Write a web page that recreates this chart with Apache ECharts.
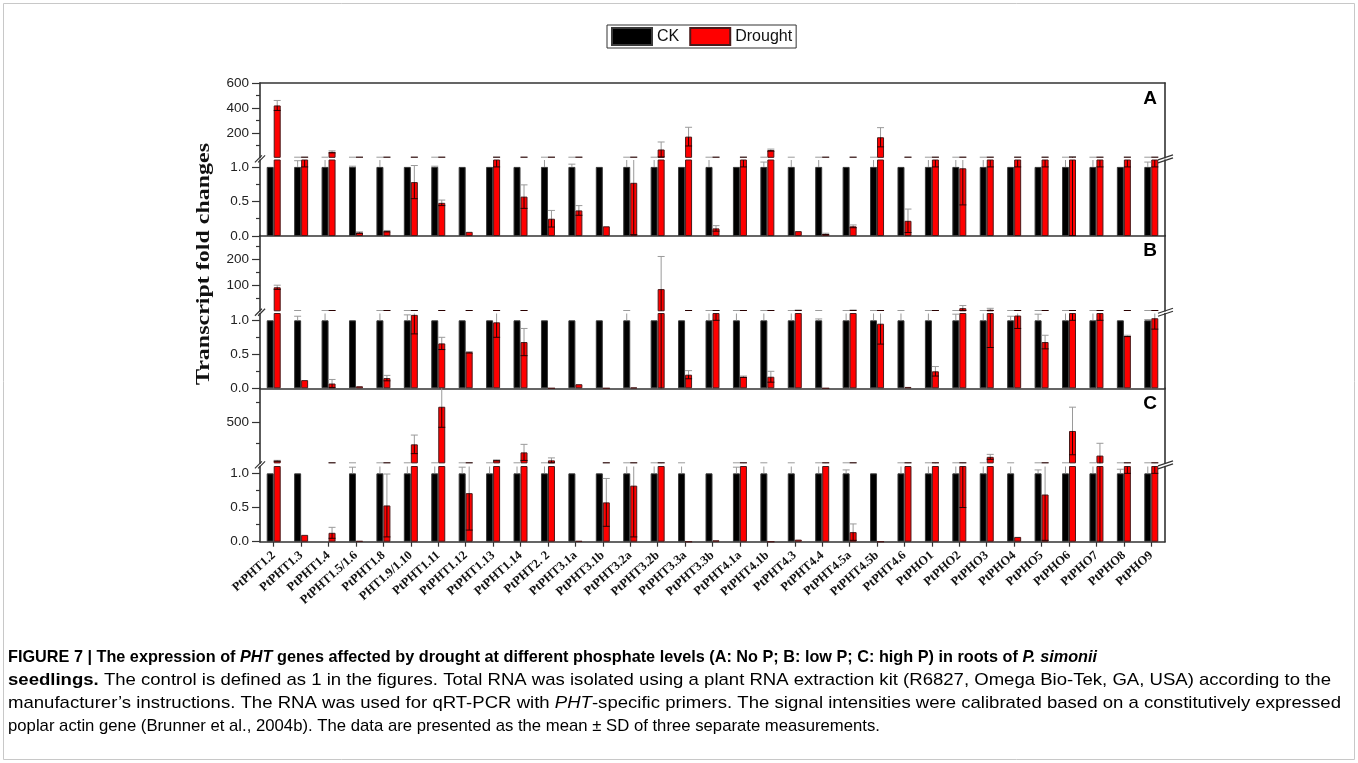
<!DOCTYPE html>
<html>
<head>
<meta charset="utf-8">
<title>PHT expression under drought</title>
<script src="https://cdn.jsdelivr.net/npm/echarts@6/dist/echarts.min.js"></script>
<style>
  html, body { margin: 0; padding: 0; background: #fff; }
  #main { width: 1358px; height: 763px; }
</style>
</head>
<body>
<div id="main"></div>
<script>
// ---- categories ----
const genes = ['PtPHT1.2', 'PtPHT1.3', 'PtPHT1.4', 'PtPHT1.5/1.6', 'PtPHT1.8', 'PHT1.9/1.10', 'PtPHT1.11',
  'PtPHT1.12', 'PtPHT1.13', 'PtPHT1.14', 'PtPHT2. 2', 'PtPHT3.1a', 'PtPHT3.1b', 'PtPHT3.2a', 'PtPHT3.2b',
  'PtPHT3.3a', 'PtPHT3.3b', 'PtPHT4.1a', 'PtPHT4.1b', 'PtPHT4.3', 'PtPHT4.4', 'PtPHT4.5a', 'PtPHT4.5b',
  'PtPHT4.6', 'PtPHO1', 'PtPHO2', 'PtPHO3', 'PtPHO4', 'PtPHO5', 'PtPHO6', 'PtPHO7', 'PtPHO8', 'PtPHO9'];

// ---- panel A: no P ----
const ckA = [1, 1, 1, 1, 1, 1, 1, 1, 1, 1, 1, 1, 1, 1, 1, 1, 1, 1, 1, 1, 1, 1, 1, 1, 1, 1, 1, 1, 1, 1, 1, 1, 1];
const ckErrA = [0, 0.09, 0.2, 0.01, 0.2, 0, 0.01, 0, 0, 0, 0.2, 0.04, 0, 0.2, 0.2, 0, 0.2, 0, 0.07, 0.2, 0.2, 0,
  0.2, 0, 0.2, 0.2, 0.2, 0, 0, 0.2, 0.2, 0, 0.07];
const droughtA = [420, 1.5, 48, 0.05, 0.07, 0.78, 0.48, 0.06, 1.5, 0.57, 0.25, 0.37, 0.14, 0.77, 67, 170, 0.11,
  1.5, 62, 0.07, 0.03, 0.14, 165, 0.22, 1.5, 0.98, 1.5, 1.5, 1.5, 5, 1.5, 1.5, 1.5];
const droughtErrA = [40, 0.5, 8, 0.01, 0.01, 0.24, 0.04, 0, 0.5, 0.17, 0.12, 0.07, 0, 0.75, 60, 75, 0.04,
  0.5, 8, 0, 0.01, 0.02, 77, 0.17, 0.5, 0.53, 0.5, 0.5, 0.5, 5, 0.5, 0.5, 0.5];

// ---- panel B: low P ----
const ckB = [1, 1, 1, 1, 1, 1, 1, 1, 1, 1, 1, 1, 1, 1, 1, 1, 1, 1, 1, 1, 1, 1, 1, 1, 1, 1, 1, 1, 1, 1, 1, 1, 1];
const ckErrB = [0, 0.06, 0.2, 0, 0.2, 0.08, 0, 0, 0, 0, 0, 0, 0, 0.2, 0, 0, 0.2, 0.2, 0.2, 0.2, 0.02, 0.2,
  0.2, 0.2, 0.2, 0.09, 0.2, 0.06, 0.09, 0.2, 0.2, 0, 0.01];
const droughtB = [92, 0.12, 0.07, 0.03, 0.15, 1.08, 0.66, 0.53, 0.97, 0.68, 0, 0.06, 0, 0.01, 85, 0.2, 1.5,
  0.17, 0.17, 4, 0, 4, 0.95, 0.02, 0.25, 12, 6, 1.07, 0.68, 1.5, 1.5, 0.77, 1.03];
const droughtErrB = [8, 0, 0.06, 0, 0.04, 0.28, 0.09, 0.01, 0.22, 0.2, 0, 0, 0, 0, 125, 0.06, 0.5,
  0.01, 0.08, 1, 0, 1, 0.3, 0, 0.07, 10, 5.4, 0.19, 0.1, 0.5, 0.5, 0.01, 0.16];

// ---- panel C: high P ----
const ckC = [1, 1, null, 1, 1, 1, 1, 1, 1, 1, 1, 1, 1, 1, 1, 1, 1, 1, 1, 1, 1, 1, 1, 1, 1, 1, 1, 1, 1, 1, 1, 1, 1];
const ckErrC = [0, 0, 0, 0.09, 0.2, 0.2, 0.2, 0.09, 0.2, 0.2, 0.2, 0, 0, 0.2, 0.2, 0.2, 0, 0.09, 0.2, 0.2,
  0.2, 0.05, 0, 0.2, 0.2, 0.2, 0.2, 0.2, 0.05, 0.2, 0.2, 0.06, 0.2];
const droughtC = [32, 0.1, 0.13, 0.01, 0.53, 232, 690, 0.71, 38, 134, 37, 0.01, 0.575, 0.82, 3, 0, 0.02, 2,
  0, 0.03, 2, 0.14, 0, 2, 3, 1.5, 80, 0.07, 0.69, 395, 95, 1.5, 1.5];
const droughtErrC = [5, 0, 0.08, 0, 0.46, 113, 250, 0.54, 5, 98, 30, 0, 0.35, 0.75, 1, 0, 0, 0.5,
  0, 0, 0.5, 0.12, 0, 0.5, 1, 1, 30, 0, 0.67, 290, 150, 0.5, 0.5];

// ---- axis ranges and tick labels (each panel has a broken y axis) ----
const lowerMax = 1.1;
const lowerMajor = [0, 0.5, 1.0];
const lowerMinor = [0.25, 0.75];
const upperMaxA = 600, upperMajorA = [200, 400, 600], upperMinorA = [100, 300, 500];
const upperMaxB = 290, upperMajorB = [100, 200], upperMinorB = [50, 150, 250];
const upperMaxC = 915, upperMajorC = [500], upperMinorC = [250, 750];
const panelLetters = ['A', 'B', 'C'];

const panels = [
  { ck: ckA, ckErr: ckErrA, dr: droughtA, drErr: droughtErrA, uMax: upperMaxA, uMajor: upperMajorA, uMinor: upperMinorA },
  { ck: ckB, ckErr: ckErrB, dr: droughtB, drErr: droughtErrB, uMax: upperMaxB, uMajor: upperMajorB, uMinor: upperMinorB },
  { ck: ckC, ckErr: ckErrC, dr: droughtC, drErr: droughtErrC, uMax: upperMaxC, uMajor: upperMajorC, uMinor: upperMinorC }
];

// ---- layout ----
const PLOT_LEFT = 260, PLOT_RIGHT = 1165;
const gridBoxes = [
  { top: 83, height: 74.7 },    // A, upper segment
  { top: 160, height: 76 },     // A, lower segment
  { top: 235.6, height: 75.4 }, // B, upper
  { top: 313.5, height: 74.8 }, // B, lower
  { top: 388.3, height: 75 },   // C, upper
  { top: 466.5, height: 75.2 }  // C, lower
];
const AXIS_COLOR = '#333';
const BAR_W = 7;

const chart = echarts.init(document.getElementById('main'), null, { renderer: 'canvas' });

const grid = [], xAxis = [], yAxis = [], series = [];

function errRenderer(offset, mode, color) {
  return function (params, api) {
    const i = api.value(0), v = api.value(1), e = api.value(2);
    if (isNaN(v) || !(e > 0)) return;
    const lo = mode === 'in' ? v - e : v;
    const hi = mode === 'in' ? v : v + e;
    const x = api.coord([i, v])[0] + offset;
    const yHi = api.coord([i, hi])[1];
    const yLo = api.coord([i, lo])[1];
    const cs = params.coordSys;
    const top = cs.y, bot = cs.y + cs.height;
    const a = Math.max(yHi, top), b = Math.min(yLo, bot);
    const children = [];
    if (b > a) {
      children.push({ type: 'line', shape: { x1: x, y1: a, x2: x, y2: b }, style: { stroke: color, lineWidth: 1 } });
    }
    const capY = mode === 'in' ? yLo : yHi;
    if (capY >= top - 0.6 && capY <= bot + 0.6) {
      const cy = Math.min(Math.max(capY, top + 0.5), bot - 0.5);
      children.push({ type: 'line', shape: { x1: x - 3.5, y1: cy, x2: x + 3.5, y2: cy }, style: { stroke: color, lineWidth: 1 } });
    }
    return { type: 'group', children: children };
  };
}

gridBoxes.forEach(function (box, k) {
  const p = panels[Math.floor(k / 2)];
  const upper = k % 2 === 0;
  const isBottom = k === 5;
  const min = upper ? lowerMax : 0;
  const max = upper ? p.uMax : lowerMax;
  const major = upper ? p.uMajor : lowerMajor;
  const minor = upper ? p.uMinor : lowerMinor;
  // smallest value that still shows as a visible bar in this segment
  const visibleFloor = upper ? lowerMax + (max - min) / box.height : -Infinity;

  grid.push({ left: PLOT_LEFT, width: PLOT_RIGHT - PLOT_LEFT, top: box.top, height: box.height,
    containLabel: false, outerBoundsMode: 'none' });

  xAxis.push({
    type: 'category', gridIndex: k, data: genes, boundaryGap: true,
    position: (k === 0) ? 'top' : 'bottom',
    axisLine: { show: !upper || k === 0, onZero: false, lineStyle: { color: AXIS_COLOR, width: 1.6 } },
    axisTick: { show: isBottom, alignWithLabel: true, length: 5, inside: false, lineStyle: { color: AXIS_COLOR, width: 1.2 } },
    axisLabel: {
      show: isBottom, interval: 0, rotate: 42, margin: 12,
      fontFamily: '"Liberation Serif", "DejaVu Serif", serif', fontWeight: 'bold', fontSize: 12.5, color: '#111'
    },
    splitLine: { show: false }
  });

  const labelFmt = upper ? function (v) { return String(Math.round(v)); } : function (v) { return v.toFixed(1); };
  yAxis.push({
    type: 'value', gridIndex: k, min: min, max: max, position: 'left',
    axisLine: { show: true, onZero: false, lineStyle: { color: AXIS_COLOR, width: 1.6 } },
    axisTick: { show: true, length: 8, inside: false, customValues: major, lineStyle: { color: AXIS_COLOR, width: 1.2 } },
    axisLabel: { show: true, customValues: major, formatter: labelFmt, margin: 11,
      fontFamily: '"Liberation Sans", Arial, sans-serif', fontSize: 13.5, color: '#222' },
    splitLine: { show: false }
  });
  yAxis.push({
    type: 'value', gridIndex: k, min: min, max: max, position: 'left',
    axisLine: { show: false },
    axisTick: { show: true, length: 4, inside: false, customValues: minor, lineStyle: { color: AXIS_COLOR, width: 1.2 } },
    axisLabel: { show: false },
    splitLine: { show: false }
  });
  yAxis.push({
    type: 'value', gridIndex: k, min: min, max: max, position: 'right',
    axisLine: { show: true, onZero: false, lineStyle: { color: AXIS_COLOR, width: 1.6 } },
    axisTick: { show: false }, axisLabel: { show: false }, splitLine: { show: false }
  });

  const keep = function (v) {
    if (v === null || v === undefined) return '-';
    if (upper && v <= visibleFloor) return '-';
    return v;
  };

  series.push({
    type: 'bar', name: 'CK', xAxisIndex: k, yAxisIndex: 3 * k, barWidth: BAR_W, barGap: '0%',
    clip: true, silent: true, z: 2,
    itemStyle: { color: '#000', borderColor: '#3a3a3a', borderWidth: 1 },
    data: p.ck.map(keep)
  });
  series.push({
    type: 'bar', name: 'Drought', xAxisIndex: k, yAxisIndex: 3 * k, barWidth: BAR_W, barGap: '0%',
    clip: true, silent: true, z: 2,
    itemStyle: { color: '#ff0000', borderColor: '#4a1a1a', borderWidth: 1 },
    data: p.dr.map(keep)
  });
  series.push({
    type: 'custom', xAxisIndex: k, yAxisIndex: 3 * k, silent: true, z: 4,
    renderItem: errRenderer(-BAR_W / 2, 'out', '#9a9a9a'),
    encode: { x: 0, y: 1 },
    data: genes.map(function (g, i) { return [i, p.ck[i] == null ? NaN : p.ck[i], p.ckErr[i]]; })
  });
  series.push({
    type: 'custom', xAxisIndex: k, yAxisIndex: 3 * k, silent: true, z: 4,
    renderItem: errRenderer(BAR_W / 2, 'out', '#9a9a9a'),
    encode: { x: 0, y: 1 },
    data: genes.map(function (g, i) { return [i, p.dr[i], p.drErr[i]]; })
  });
  series.push({
    type: 'custom', xAxisIndex: k, yAxisIndex: 3 * k, silent: true, z: 4,
    renderItem: errRenderer(BAR_W / 2, 'in', '#2a0000'),
    encode: { x: 0, y: 1 },
    data: genes.map(function (g, i) { return [i, p.dr[i], p.drErr[i]]; })
  });
});

// ---- decorations: axis-break marks, panel letters, titles, caption ----
const graphic = [];
const measureCtx = document.createElement('canvas').getContext('2d');

// outer figure frame
graphic.push({ type: 'rect', silent: true, shape: { x: 3.5, y: 3.5, width: 1351, height: 756 },
  style: { fill: 'none', stroke: '#c8c8c8', lineWidth: 1 } });

for (let p = 0; p < 3; p++) {
  const up = gridBoxes[2 * p], lo = gridBoxes[2 * p + 1];
  const yb = (up.top + up.height + lo.top) / 2;
  // left break "//"
  [-1.6, 1.6].forEach(function (dx) {
    graphic.push({ type: 'line', silent: true,
      shape: { x1: PLOT_LEFT - 3.5 + dx, y1: yb + 3.5, x2: PLOT_LEFT + 3.5 + dx, y2: yb - 3.5 },
      style: { stroke: AXIS_COLOR, lineWidth: 1.2 } });
  });
  // right break "//"
  [-1.5, 1.5].forEach(function (dy) {
    graphic.push({ type: 'line', silent: true,
      shape: { x1: PLOT_RIGHT - 7, y1: yb + 2.5 + dy, x2: PLOT_RIGHT + 8, y2: yb - 2.5 + dy },
      style: { stroke: AXIS_COLOR, lineWidth: 1.2 } });
  });
  // panel letter
  graphic.push({ type: 'text', silent: true, x: PLOT_RIGHT - 8, y: up.top + 6,
    style: { text: panelLetters[p], textAlign: 'right', textVerticalAlign: 'top',
      font: 'bold 19px "Liberation Sans", Arial, sans-serif', fill: '#000' } });
}

// y-axis title, stretched along its run from y=143 to y=385
const yTitle = 'Transcript fold changes';
const yTitleFont = 'bold 19px "Liberation Serif", "DejaVu Serif", serif';
measureCtx.font = yTitleFont;
const yTitleScale = 242 / measureCtx.measureText(yTitle).width;
graphic.push({ type: 'text', silent: true, x: 204, y: 264, rotation: Math.PI / 2, scaleX: yTitleScale,
  style: { text: yTitle, textAlign: 'center', textVerticalAlign: 'middle', font: yTitleFont, fill: '#111' } });

// caption
const capFonts = {
  b: { fontWeight: 'bold', fontStyle: 'normal', color: '#231f20' },
  bi: { fontWeight: 'bold', fontStyle: 'italic', color: '#231f20' },
  n: { fontWeight: 'normal', fontStyle: 'normal', color: '#231f20' },
  i: { fontWeight: 'normal', fontStyle: 'italic', color: '#231f20' },
  l: { fontWeight: 'normal', fontStyle: 'normal', color: '#8c8c8c' }
};
const CAP_SIZE = 17;
const CAP_FAMILY = '"Liberation Sans", Arial, sans-serif';
const captionLines = [
  [['b', 'FIGURE 7 | The expression of '], ['bi', 'PHT'], ['b', ' genes affected by drought at different phosphate levels (A: No P; B: low P; C: high P) in roots of '], ['bi', 'P. simonii']],
  [['b', 'seedlings.'], ['n', ' The control is defined as 1 in the figures. Total RNA was isolated using a plant RNA extraction kit (R6827, Omega Bio-Tek, GA, USA) according to the']],
  [['n', 'manufacturer\u2019s instructions. The RNA was used for qRT-PCR with '], ['i', 'PHT'], ['n', '-specific primers. The signal intensities were calibrated based on a constitutively expressed']],
  [['n', 'poplar actin gene ('], ['l', 'Brunner et al., 2004b'], ['n', '). The data are presented as the mean \u00b1 SD of three separate measurements.']]
];
// right ends of the caption lines
const captionRight = [1097, 1331, 1341, 880];
function lineWidth(segs) {
  let w = 0;
  segs.forEach(function (s) {
    const f = capFonts[s[0]];
    measureCtx.font = f.fontStyle + ' ' + f.fontWeight + ' ' + CAP_SIZE + 'px ' + CAP_FAMILY;
    w += measureCtx.measureText(s[1]).width;
  });
  return w;
}
const rich = {};
Object.keys(capFonts).forEach(function (k) {
  rich[k] = { fontFamily: CAP_FAMILY, fontSize: CAP_SIZE, fontWeight: capFonts[k].fontWeight,
    fontStyle: capFonts[k].fontStyle, color: capFonts[k].color };
});
captionLines.forEach(function (segs, j) {
  const txt = segs.map(function (s) { return '{' + s[0] + '|' + s[1] + '}'; }).join('');
  const sx = (captionRight[j] - 8) / lineWidth(segs);
  graphic.push({ type: 'text', silent: true, x: 8, y: 657 + 23 * j, scaleX: sx,
    style: { text: txt, rich: rich, textVerticalAlign: 'middle', textAlign: 'left' } });
});

chart.setOption({
  animation: false,
  backgroundColor: '#fff',
  legend: {
    data: ['CK', 'Drought'], left: 607, top: 25, orient: 'horizontal',
    itemWidth: 40, itemHeight: 17, itemGap: 10, padding: [2, 4, 2, 4],
    borderColor: '#333', borderWidth: 1, icon: 'rect',
    textStyle: { fontFamily: '"Liberation Sans", Arial, sans-serif', fontSize: 16, color: '#111' },
    selectedMode: false
  },
  grid: grid, xAxis: xAxis, yAxis: yAxis, series: series, graphic: graphic
});
</script>
</body>
</html>
